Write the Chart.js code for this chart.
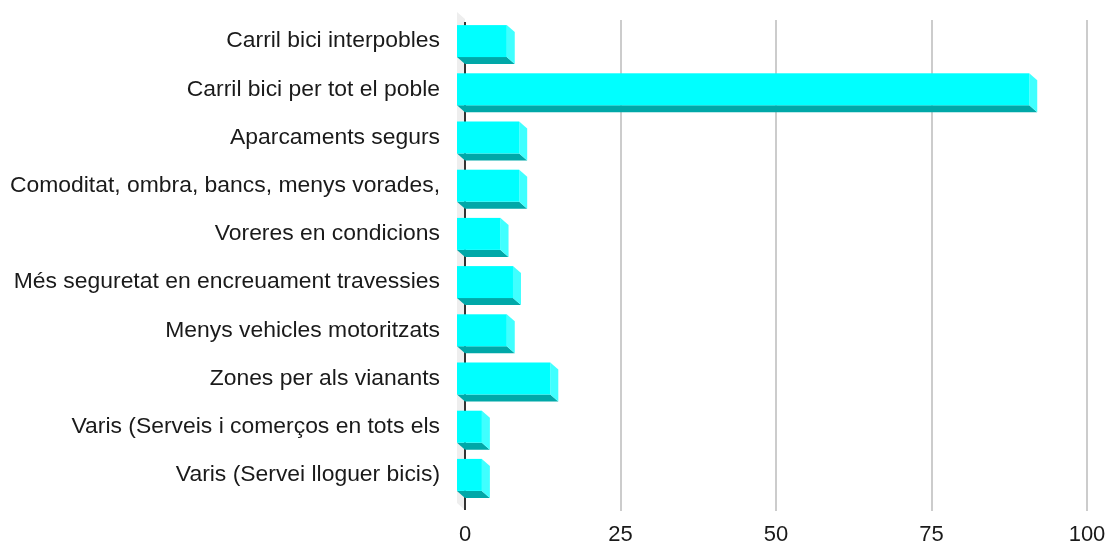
<!DOCTYPE html>
<html>
<head>
<meta charset="utf-8">
<script src="https://cdn.jsdelivr.net/npm/chart.js@4"></script>
<style>
  html, body { margin: 0; padding: 0; background: #fff; }
  #wrap { width: 1107px; height: 544px; }
</style>
</head>
<body>
<div id="wrap"><canvas id="myChart"></canvas></div>
<script>
const categories = [
  'Carril bici interpobles',
  'Carril bici per tot el poble',
  'Aparcaments segurs',
  'Comoditat, ombra, bancs, menys vorades,',
  'Voreres en condicions',
  'Més seguretat en encreuament travessies',
  'Menys vehicles motoritzats',
  'Zones per als vianants',
  'Varis (Serveis i comerços en tots els',
  'Varis (Servei lloguer bicis)'
];
const values = [8, 92, 10, 10, 7, 9, 8, 15, 4, 4];
const xMax = 100;
const xStep = 25;

// 3d depth of the boxes
const DX = 8, DY = 7;
const frontColor = '#00ffff';
const sideColor = '#40ffff';
const bottomColor = '#00a8a8';

const boxes3d = {
  id: 'boxes3d',
  beforeDatasetsDraw(chart) {
    const {ctx, chartArea: a, scales: {x}} = chart;
    const x0 = x.getPixelForValue(0);
    ctx.save();
    // back wall
    ctx.fillStyle = '#eeeeee';
    ctx.beginPath();
    ctx.moveTo(x0 - DX, a.top - 5);
    ctx.lineTo(x0, a.top - 5 + DY);
    ctx.lineTo(x0, a.bottom + 11);
    ctx.lineTo(x0 - DX, a.bottom + 11 - DY);
    ctx.closePath();
    ctx.fill();
    // grid lines
    ctx.strokeStyle = '#cccccc';
    ctx.lineWidth = 2;
    x.ticks.forEach(t => {
      if (t.value === 0) return;
      const px = Math.round(x.getPixelForValue(t.value));
      ctx.beginPath();
      ctx.moveTo(px, a.top + 3);
      ctx.lineTo(px, a.bottom + 12);
      ctx.stroke();
    });
    // zero line
    ctx.strokeStyle = '#333333';
    ctx.lineWidth = 2;
    ctx.beginPath();
    ctx.moveTo(Math.round(x0), a.top + 5);
    ctx.lineTo(Math.round(x0), a.bottom + 11);
    ctx.stroke();
    ctx.restore();
  },
  afterDatasetsDraw(chart) {
    const {ctx} = chart;
    const meta = chart.getDatasetMeta(0);
    ctx.save();
    meta.data.forEach(bar => {
      const {x, y, base, height} = bar.getProps(['x', 'y', 'base', 'height'], true);
      const l = base - DX, r = x - DX;
      const t = y - height / 2, b = y + height / 2;
      // bottom face
      ctx.fillStyle = bottomColor;
      ctx.beginPath();
      ctx.moveTo(l, b);
      ctx.lineTo(r, b);
      ctx.lineTo(r + DX, b + DY);
      ctx.lineTo(l + DX, b + DY);
      ctx.closePath();
      ctx.fill();
      // side face
      ctx.fillStyle = sideColor;
      ctx.beginPath();
      ctx.moveTo(r, t);
      ctx.lineTo(r + DX, t + DY);
      ctx.lineTo(r + DX, b + DY);
      ctx.lineTo(r, b);
      ctx.closePath();
      ctx.fill();
      // front face
      ctx.fillStyle = frontColor;
      ctx.fillRect(l, t, r - l, b - t);
    });
    ctx.restore();
  }
};

new Chart(document.getElementById('myChart'), {
  type: 'bar',
  data: {
    labels: categories,
    datasets: [{
      data: values,
      backgroundColor: 'rgba(0,0,0,0)',
      borderWidth: 0,
      barPercentage: 0.664,
      categoryPercentage: 1
    }]
  },
  options: {
    indexAxis: 'y',
    responsive: true,
    maintainAspectRatio: false,
    animation: false,
    layout: { padding: { top: 17, right: 20, left: 0, bottom: 0 } },
    plugins: {
      legend: { display: false },
      tooltip: { enabled: false }
    },
    scales: {
      x: {
        min: 0,
        max: xMax,
        ticks: {
          stepSize: xStep,
          padding: 23,
          color: '#1a1a1a',
          font: { family: "'Liberation Sans', Arial, sans-serif", size: 22 }
        },
        grid: { display: false, drawTicks: false },
        border: { display: false },
        afterFit(s) {
          s.height = 45;
          s.paddingLeft = 0;
          s.paddingRight = 0;
        }
      },
      y: {
        ticks: {
          padding: 25,
          color: '#1a1a1a',
          font: { family: "'Liberation Sans', Arial, sans-serif", size: 22.9 }
        },
        grid: { display: false, drawTicks: false },
        border: { display: false },
        afterFit(s) {
          s.width = 465;
          s.paddingTop = 0;
          s.paddingBottom = 0;
        }
      }
    }
  },
  plugins: [boxes3d]
});
</script>
</body>
</html>
